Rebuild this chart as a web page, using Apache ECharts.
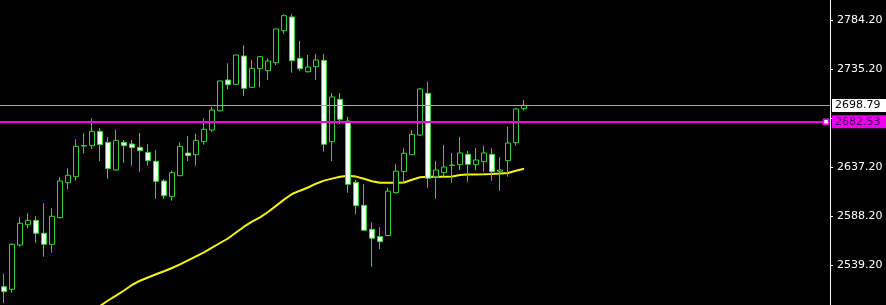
<!DOCTYPE html>
<html>
<head>
<meta charset="utf-8">
<script src="https://cdn.jsdelivr.net/npm/echarts@6/dist/echarts.min.js"></script>
<style>
html,body{margin:0;padding:0;background:#000;}
#c{width:886px;height:305px;}
</style>
</head>
<body>
<div id="c"></div>
<script>
// ---- data ----
const opens  = [2517.5,2514.9,2559.2,2579.5,2583.9,2570.9,2559.9,2586.5,2621.5,2627.5,2658.2,2658.5,2672.9,2661.9,2634.2,2661.9,2660.2,2656.9,2651.9,2642.9,2623.2,2607.5,2628.5,2651.2,2649.5,2662.5,2674.2,2693.5,2724.2,2719.9,2748.2,2716.9,2735.5,2733.5,2741.5,2773.5,2787.2,2745.9,2732.5,2737.5,2743.9,2662.5,2704.9,2683.2,2621.9,2598.9,2574.9,2567.7,2568.7,2611.5,2632.5,2649.5,2669.2,2710.9,2627.5,2631.5,2638.7,2639.5,2649.9,2639.5,2642.5,2649.9,2632.9,2643.5,2661.5,2695.5];
const closes = [2512.5,2559.9,2580.9,2583.9,2570.9,2559.9,2587.9,2623.2,2628.9,2657.9,2658.7,2672.9,2659.5,2635.5,2663.9,2658.5,2656.5,2653.5,2643.5,2622.9,2608.5,2631.5,2657.9,2648.5,2663.9,2674.9,2694.2,2723.2,2719.5,2749.2,2715.9,2735.9,2747.5,2743.2,2775.2,2788.5,2743.5,2735.5,2737.2,2744.2,2659.9,2707.2,2684.9,2619.9,2598.5,2573.9,2565.9,2562.5,2613.0,2633.0,2650.9,2669.9,2715.2,2625.9,2634.2,2637.2,2639.1,2651.2,2639.9,2644.2,2651.2,2632.5,2634.2,2661.2,2695.2,2698.79];
const lows   = [2501.2,2511.5,2557.5,2575.9,2561.5,2547.5,2551.5,2585.5,2614.9,2623.5,2650.9,2655.2,2643.2,2625.5,2633.2,2641.5,2638.5,2632.5,2638.5,2605.5,2605.2,2603.5,2628.2,2643.2,2638.5,2659.5,2672.5,2692.5,2714.9,2719.2,2708.2,2716.5,2716.9,2724.2,2739.2,2770.2,2731.5,2733.2,2731.5,2724.2,2652.5,2643.2,2680.2,2611.5,2590.2,2573.2,2537.5,2555.2,2568.2,2610.5,2620.9,2649.2,2668.2,2616.5,2605.5,2627.5,2621.5,2634.2,2622.5,2634.2,2632.5,2623.5,2613.5,2627.5,2658.5,2693.5];
const highs  = [2530.2,2560.9,2586.9,2590.9,2588.2,2600.9,2595.9,2626.9,2635.9,2664.9,2670.9,2685.9,2675.9,2666.9,2674.2,2664.2,2664.2,2671.2,2660.2,2654.2,2625.2,2633.5,2661.9,2668.2,2670.5,2685.9,2697.2,2723.2,2740.9,2749.2,2758.9,2744.2,2748.2,2745.9,2775.2,2789.9,2790.2,2763.2,2749.2,2750.2,2750.2,2711.2,2711.2,2687.5,2624.2,2620.2,2581.9,2576.9,2616.5,2639.9,2655.9,2674.2,2716.2,2722.2,2643.2,2659.2,2651.2,2667.2,2653.2,2656.2,2658.2,2655.9,2646.9,2677.5,2696.2,2704.2];
const maStart = 12;
const maValues = [2498.2,2503.7,2508.5,2513.7,2519.2,2523.5,2526.7,2529.9,2533.0,2536.2,2539.9,2543.9,2547.9,2551.9,2556.5,2561.2,2565.7,2571.7,2577.5,2582.6,2586.9,2592.2,2598.3,2604.6,2610.2,2613.5,2616.7,2620.5,2623.6,2625.6,2627.5,2628.4,2627.6,2625.5,2623.0,2621.5,2621.5,2621.5,2621.7,2624.5,2626.9,2627.5,2627.5,2627.5,2627.7,2629.2,2629.6,2629.7,2629.9,2630.2,2630.6,2631.2,2633.5,2635.5];
const yTicks = [2539.20, 2588.20, 2637.20, 2686.20, 2735.20, 2784.20];
const currentPrice = 2698.79;
const levelPrice = 2682.53;
const slotCount = 103.75; // visible bar slots incl. right shift

// ---- build ----
const candleData = opens.map((o, i) => [i, o, closes[i], lows[i], highs[i]]);
const maData = maValues.map((v, k) => [maStart + k, v]);
// tick labels hidden behind the price boxes are not drawn
const labelTicks = yTicks.filter(v => Math.abs(v - levelPrice) > 10 && Math.abs(v - currentPrice) > 10);

const chart = echarts.init(document.getElementById('c'), null, {renderer: 'canvas'});
chart.setOption({
  backgroundColor: '#000000',
  animation: false,
  grid: {left: 0, right: 56, top: 0, bottom: 0},
  xAxis: {
    type: 'value', min: -0.5, max: slotCount - 0.5, show: false
  },
  yAxis: {
    type: 'value', position: 'right', min: 2499.2, max: 2804.2, scale: true,
    axisLine: {show: true, onZero: false, lineStyle: {color: '#ffffff', width: 1}},
    axisTick: {show: true, length: 3, customValues: yTicks, lineStyle: {color: '#ffffff'}},
    axisLabel: {
      show: true, customValues: labelTicks, color: '#ffffff', margin: 7,
      fontFamily: 'DejaVu Sans', fontSize: 11,
      formatter: v => Number(v).toFixed(2)
    },
    splitLine: {show: false}
  },
  series: [
    {
      type: 'line',
      data: maData,
      showSymbol: false,
      symbol: 'none',
      clip: true,
      lineStyle: {color: '#f5f50f', width: 2},
      z: 1
    },
    {
      type: 'candlestick',
      data: candleData,
      encode: {x: 0, y: [1, 2, 3, 4]},
      barWidth: 5,
      z: 3,
      itemStyle: {
        color: '#000000', color0: '#f4fff4',
        borderColor: '#32d432', borderColor0: '#32d432', borderColorDoji: '#32d432',
        borderWidth: 1
      },
      markLine: {
        silent: true, symbol: 'none', animation: false,
        data: [
          {
            yAxis: currentPrice,
            lineStyle: {color: '#a8a8a8', width: 1, type: 'solid'},
            label: {
              show: true, position: 'end', distance: 2,
              formatter: p => p.value.toFixed(2),
              backgroundColor: '#ffffff', color: '#000000',
              fontFamily: 'DejaVu Sans', fontSize: 11, padding: [1, 4, 1, 3], width: 47
            }
          },
          {
            yAxis: levelPrice,
            lineStyle: {color: '#ee00ee', width: 2, type: 'solid'},
            label: {
              show: true, position: 'end', distance: 2,
              formatter: p => p.value.toFixed(2),
              backgroundColor: '#ee00ee', color: '#4a0050',
              fontFamily: 'DejaVu Sans', fontSize: 11, padding: [1, 4, 1, 3], width: 47
            }
          }
        ]
      },
      markPoint: {
        silent: true, animation: false,
        data: [{coord: [102.75, levelPrice], symbol: 'rect', symbolSize: 5,
          itemStyle: {color: '#ffffff', borderColor: '#ee00ee', borderWidth: 1.5},
          label: {show: false}}]
      }
    }
  ]
});
</script>
</body>
</html>
